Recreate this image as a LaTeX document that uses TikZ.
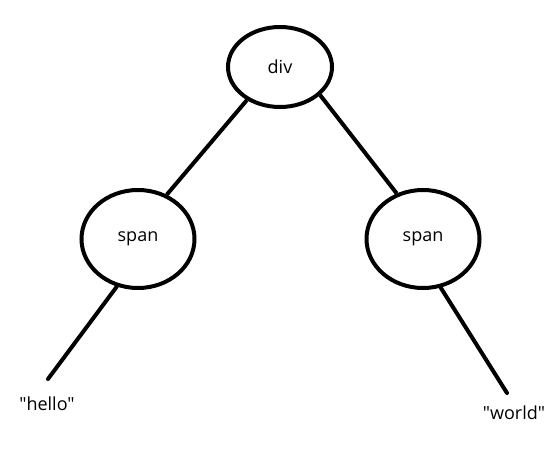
\documentclass[tikz,border=0pt]{standalone}
\usepackage{fontspec}
\newfontfamily\lblfont{Open Sans}
\usetikzlibrary{shapes.geometric}
\begin{document}
\begin{tikzpicture}[x=1pt,y=-1pt,
  bubble/.style={draw=black,line width=4pt,ellipse,inner sep=0pt},
  conn/.style={draw=black,line width=4pt},
  lbl/.style={font=\lblfont\fontsize{18}{21}\selectfont}]
\useasboundingbox (0,0) rectangle (559,449);
\node[bubble,minimum width=104pt,minimum height=80pt,lbl] (div) at (280,67) {div};
\node[bubble,minimum width=113pt,minimum height=98pt,lbl] (sl) at (138,239) {span};
\node[bubble,minimum width=113pt,minimum height=98pt,lbl] (sr) at (423,239) {span};
\node[lbl] (hello) at (47,404) {"hello"};
\node[lbl] (world) at (514,413) {"world"};
\coordinate (he) at (48,379);
\coordinate (we) at (507,393);
\draw[conn] (div.225) -- (sl.57);
\draw[conn] (div.325) -- (sr.120);
\draw[conn,line cap=round] (sl.246) -- (he);
\draw[conn,line cap=round] (sr.290) -- (we);
\end{tikzpicture}
\end{document}
